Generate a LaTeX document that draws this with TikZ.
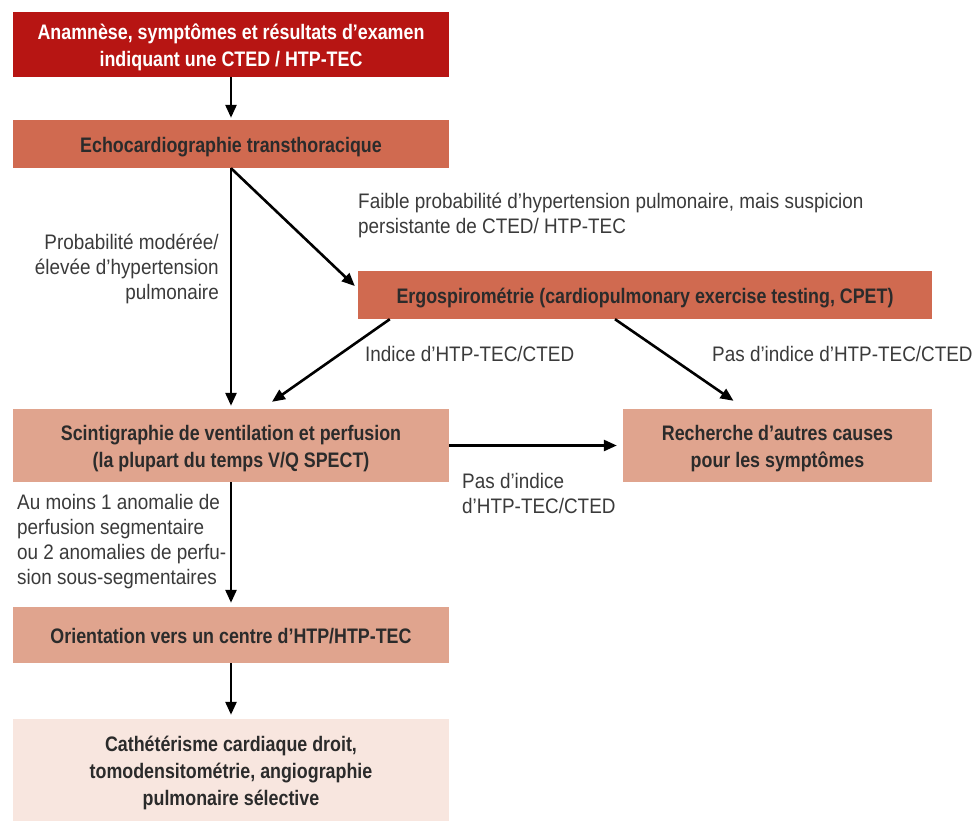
\documentclass[tikz,border=0pt]{standalone}
\usepackage{fontspec}
\setmainfont{Liberation Sans}[FakeStretch=0.9,BoldFeatures={FakeStretch=0.85}]
\usetikzlibrary{arrows.meta}
\definecolor{cRed}{HTML}{B71513}
\definecolor{cMid}{HTML}{D06A50}
\definecolor{cLight}{HTML}{E0A48E}
\definecolor{cPale}{HTML}{F8E6DF}
\definecolor{cText}{HTML}{2B2B2B}
\definecolor{cLab}{HTML}{3A3A3A}
\newcommand\bxtext[1]{\raisebox{-3pt}[\height][\depth]{\begin{tabular}{@{}c@{}}#1\end{tabular}}}
\begin{document}
\begin{tikzpicture}[x=1pt,y=-1pt,
  box/.style={rectangle,inner sep=0pt,align=center,text=cText,
    font=\fontsize{21}{27}\selectfont\bfseries},
  lab/.style={inner sep=0pt,text=cLab,font=\fontsize{21}{25}\selectfont},
  arr/.style={line width=2.6pt,-{Triangle[length=13pt,width=11pt]}}]
\useasboundingbox (0,0) rectangle (976,821);
\node[box,fill=cRed,text=white,minimum width=436pt,minimum height=65pt] (b1) at (231,44.5)
  {\bxtext{Anamnèse, symptômes et résultats d’examen\\indiquant une CTED / HTP-TEC}};
\node[box,fill=cMid,minimum width=436pt,minimum height=48pt] (b2) at (231,144)
  {\bxtext{Echocardiographie transthoracique}};
\node[box,fill=cMid,minimum width=574pt,minimum height=48pt] (ergo) at (645,295)
  {\bxtext{Ergospirométrie (cardiopulmonary exercise testing, CPET)}};
\node[box,fill=cLight,minimum width=436pt,minimum height=73pt] (scin) at (231,445.5)
  {\bxtext{Scintigraphie de ventilation et perfusion\\(la plupart du temps V/Q SPECT)}};
\node[box,fill=cLight,minimum width=309pt,minimum height=73pt] (rech) at (777.5,445.5)
  {\bxtext{Recherche d’autres causes\\pour les symptômes}};
\node[box,fill=cLight,minimum width=436pt,minimum height=56pt] (orient) at (231,635)
  {\bxtext{Orientation vers un centre d’HTP/HTP-TEC}};
\node[box,fill=cPale,minimum width=436pt,minimum height=102pt] (cath) at (231,770)
  {\bxtext{Cathétérisme cardiaque droit,\\tomodensitométrie, angiographie\\pulmonaire sélective}};

\node[lab,align=right,anchor=east] (lprob) at (219,269)
  {Probabilité modérée/\\élevée d’hypertension\\pulmonaire};
\node[lab,align=left,anchor=west] (lfaible) at (358,215)
  {Faible probabilité d’hypertension pulmonaire, mais suspicion\\persistante de CTED/ HTP-TEC};
\node[lab,anchor=west] (lind) at (365,354) {Indice d’HTP-TEC/CTED};
\node[lab,anchor=west] (lpas1) at (712,354) {Pas d’indice d’HTP-TEC/CTED};
\node[lab,align=left,anchor=west] (lpas2) at (462,493) {Pas d’indice\\d’HTP-TEC/CTED};
\node[lab,align=left,anchor=west] (lmoins) at (17,542)
  {Au moins 1 anomalie de\\perfusion segmentaire\\ou 2 anomalies de perfu-\\sion sous-segmentaires};

\draw[arr,shorten >=2pt] (b1.south) -- (b2.north);
\draw[arr,shorten >=3pt] (b2.south) -- (scin.north);
\draw[arr] (b2.south) -- ([xshift=-3pt,yshift=9pt]ergo.west);
\draw[arr] ([xshift=32pt]ergo.south west) -- ([xshift=41pt,yshift=7pt]scin.north);
\draw[arr] ([xshift=-30pt]ergo.south) -- ([xshift=-44pt,yshift=8pt]rech.north);
\draw[arr,shorten >=6pt] (scin.east) -- (rech.west);
\draw[arr,shorten >=4pt] (scin.south) -- (orient.north);
\draw[arr,shorten >=4pt] (orient.south) -- (cath.north);
\end{tikzpicture}
\end{document}
